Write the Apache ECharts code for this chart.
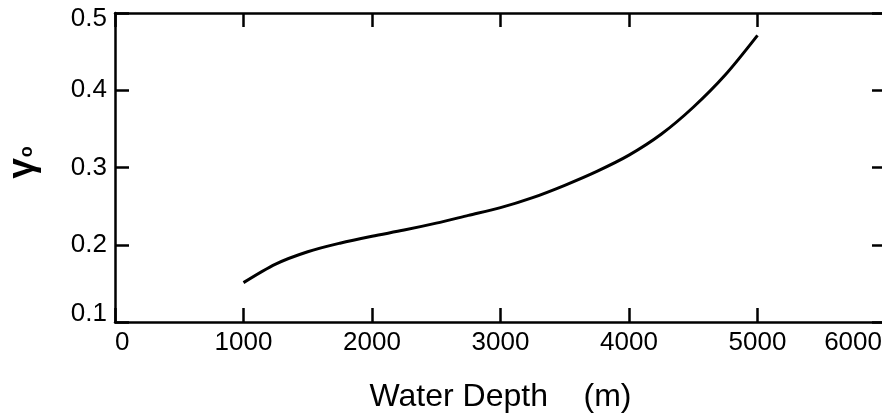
<!DOCTYPE html>
<html>
<head>
<meta charset="utf-8">
<script src="https://cdn.jsdelivr.net/npm/echarts@6/dist/echarts.min.js"></script>
<style>html,body{margin:0;padding:0;background:#fff}#c{width:882px;height:420px}</style>
</head>
<body>
<div id="c"></div>
<script>
// Data
const depths = [1000, 1250, 1500, 1750, 2000, 2250, 2500, 2750, 3000, 3250, 3500, 3750, 4000, 4250, 4500, 4750, 5000];
const gamma0 = [0.151, 0.175, 0.191, 0.202, 0.211, 0.219, 0.228, 0.238, 0.248, 0.261, 0.277, 0.295, 0.316, 0.343, 0.378, 0.420, 0.471];
const xTicks = [0, 1000, 2000, 3000, 4000, 5000, 6000];
const yTicks = [0.1, 0.2, 0.3, 0.4, 0.5];
const xName = 'Water Depth    (m)';

const chart = echarts.init(document.getElementById('c'), null, {renderer: 'canvas'});
const font = 'Liberation Sans';
const lineCol = '#000';
const axisCommon = {
  axisLine: {show: true, onZero: false, lineStyle: {color: lineCol, width: 2.5}},
  axisTick: {show: true, inside: true, length: 14, lineStyle: {color: lineCol, width: 2.5}},
  splitLine: {show: false}
};
const labelStyle = {fontFamily: font, fontSize: 26, color: '#000', fontWeight: 'normal'};
chart.setOption({
  animation: false,
  backgroundColor: '#fff',
  grid: {left: 115, top: 13, width: 771, height: 309, containLabel: false, outerBoundsMode: 'none'},
  xAxis: [
    Object.assign({
      type: 'value', position: 'bottom',
      min: xTicks[0], max: xTicks[xTicks.length - 1], interval: 1000,
      name: xName, nameLocation: 'middle', nameGap: 59,
      nameTextStyle: {fontFamily: font, fontSize: 32, color: '#000'},
      axisLabel: {margin: 8,
        alignMinLabel: 'left', alignMaxLabel: 'right',
        formatter: v => (v === xTicks[xTicks.length - 1] ? '{mx|' + v + '}' : '{n|' + v + '}'),
        rich: {
          n: labelStyle,
          mx: Object.assign({padding: [0, 4, 0, 0]}, labelStyle)
        }}
    }, axisCommon),
    Object.assign({
      type: 'value', position: 'top',
      min: xTicks[0], max: xTicks[xTicks.length - 1], interval: 1000,
      axisLabel: {show: false}
    }, axisCommon)
  ],
  yAxis: [
    Object.assign({
      type: 'value', position: 'left',
      min: yTicks[0], max: yTicks[yTicks.length - 1], interval: 0.1,
      name: '{a|γ}{b|o}', nameLocation: 'middle', nameRotate: 90, nameGap: 74,
      nameTextStyle: {
        rich: {
          a: {fontFamily: font, fontSize: 37, color: '#000', fontWeight: 'bold', verticalAlign: 'bottom', lineHeight: 37, padding: [0, 0, 0, 10]},
          b: {fontFamily: font, fontSize: 18, color: '#000', fontWeight: 'bold', verticalAlign: 'bottom', lineHeight: 18, padding: [0, 0, 5, 1]}
        }
      },
      axisLabel: {margin: 8,
        formatter: v => {
          const s = v.toFixed(1);
          if (Math.abs(v - yTicks[yTicks.length - 1]) < 1e-9) return '{mx|' + s + '}';
          if (Math.abs(v - yTicks[0]) < 1e-9) return '{mn|' + s + '}';
          return '{n|' + s + '}';
        },
        rich: {
          n: labelStyle,
          mx: Object.assign({padding: [11, 0, 0, 0]}, labelStyle),
          mn: Object.assign({padding: [0, 0, 16, 0]}, labelStyle)
        }}
    }, axisCommon),
    Object.assign({
      type: 'value', position: 'right',
      min: yTicks[0], max: yTicks[yTicks.length - 1], interval: 0.1,
      axisLabel: {show: false}
    }, axisCommon)
  ],
  series: [{
    type: 'line',
    xAxisIndex: 0, yAxisIndex: 0,
    data: depths.map((d, i) => [d, gamma0[i]]),
    smooth: 0.3,
    showSymbol: false,
    lineStyle: {color: '#000', width: 3}
  }]
});
</script>
</body>
</html>
